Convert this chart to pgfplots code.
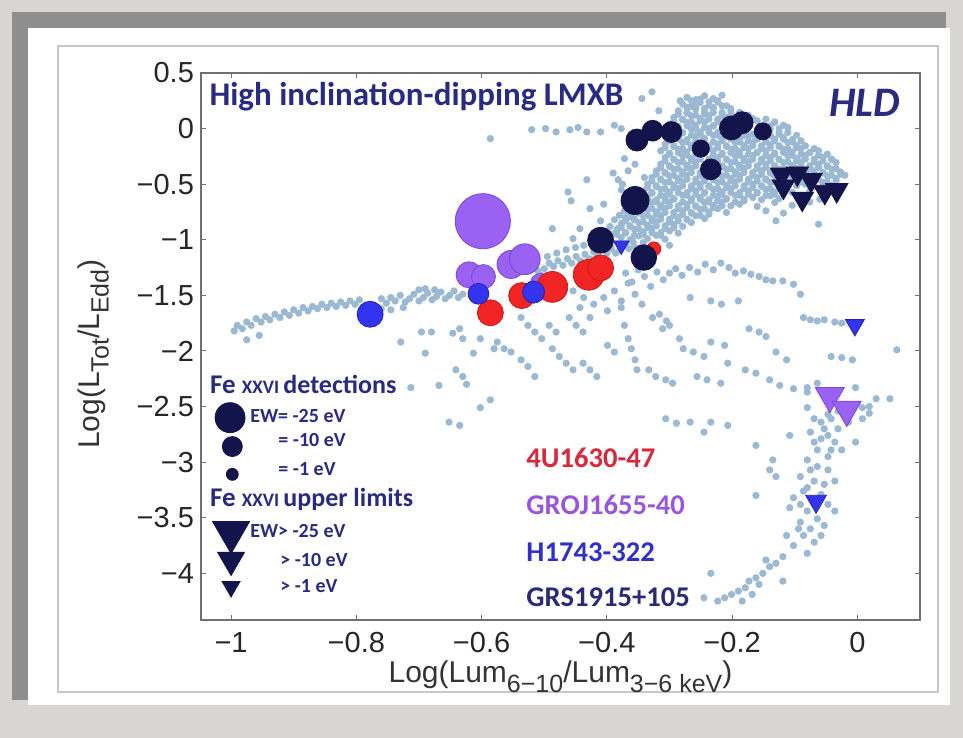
\documentclass[border=0pt]{standalone}
\usepackage{pgfplots}
\pgfplotsset{compat=1.18}
\usepackage{pgfplotstable}
\usepackage{fontspec}
\setmainfont{Liberation Sans}
\newfontfamily\calfont{Carlito}
\definecolor{lb}{HTML}{9BB9D2}
\definecolor{navyc}{HTML}{14144C}
\definecolor{purc}{HTML}{9A62F2}
\definecolor{pure}{HTML}{7A45D0}
\definecolor{redc}{HTML}{F22424}
\definecolor{rede}{HTML}{C41C1C}
\definecolor{bluc}{HTML}{3434EE}
\definecolor{blue2}{HTML}{2222B0}
\definecolor{txtnavy}{HTML}{2A2A80}
\definecolor{axgray}{HTML}{707070}
\definecolor{bgouter}{HTML}{D8D6D3}
\definecolor{bgshadow}{HTML}{8E8E8E}
\definecolor{innerline}{HTML}{C8C8C8}
\definecolor{tred}{HTML}{D8283C}
\definecolor{tpur}{HTML}{9955DD}
\definecolor{tblu}{HTML}{3030C8}
\definecolor{tnav}{HTML}{2A2A78}
\newcommand{\sbs}[1]{\raisebox{-0.32em}{\fontsize{12.5}{13}\selectfont #1}}

\pgfplotstableread{
x y
-0.995 -1.82
-0.990 -1.77
-0.982 -1.80
-0.975 -1.90
-0.975 -1.74
-0.968 -1.77
-0.960 -1.71
-0.955 -1.86
-0.952 -1.74
-0.945 -1.69
-0.938 -1.72
-0.930 -1.67
-0.922 -1.70
-0.915 -1.65
-0.907 -1.68
-0.900 -1.63
-0.892 -1.66
-0.885 -1.61
-0.877 -1.64
-0.870 -1.60
-0.862 -1.62
-0.855 -1.58
-0.847 -1.61
-0.840 -1.57
-0.832 -1.60
-0.825 -1.56
-0.817 -1.59
-0.810 -1.55
-0.802 -1.58
-0.795 -1.54
-0.760 -1.53
-0.752 -1.57
-0.745 -1.52
-0.738 -1.55
-0.730 -1.50
-0.722 -1.56
-0.715 -1.53
-0.708 -1.49
-0.700 -1.55
-0.693 -1.52
-0.686 -1.48
-0.679 -1.54
-0.672 -1.51
-0.665 -1.47
-0.658 -1.53
-0.651 -1.50
-0.644 -1.46
-0.637 -1.52
-0.630 -1.49
-0.700 -1.45
-0.690 -1.44
-0.675 -1.45
-0.760 -1.62
-0.745 -1.63
-0.725 -1.61
-0.729 -1.92
-0.696 -1.83
-0.690 -2.02
-0.680 -1.83
-0.646 -1.84
-0.635 -1.80
-0.630 -1.89
-0.641 -2.17
-0.630 -2.23
-0.624 -2.30
-0.713 -2.33
-0.668 -2.31
-0.652 -2.64
-0.635 -2.67
-0.602 -2.51
-0.586 -2.44
-0.602 -1.89
-0.580 -1.98
-0.613 -2.02
-0.500 -1.26
-0.492 -1.21
-0.485 -1.24
-0.478 -1.19
-0.470 -1.23
-0.463 -1.17
-0.456 -1.21
-0.449 -1.15
-0.442 -1.19
-0.435 -1.13
-0.428 -1.17
-0.421 -1.11
-0.414 -1.15
-0.400 -1.12
-0.393 -1.08
-0.386 -1.12
-0.379 -1.09
-0.372 -1.04
-0.365 -1.08
-0.358 -1.02
-0.480 -1.12
-0.465 -1.09
-0.450 -1.07
-0.437 -1.05
-0.495 -1.15
-0.510 -1.28
-0.505 -1.32
-0.390 -0.95
-0.383 -0.90
-0.376 -0.85
-0.395 -0.88
-0.388 -0.82
-0.380 -0.78
-0.372 -0.74
-0.366 -0.80
-0.360 -0.76
-0.462 -0.57
-0.457 -0.65
-0.432 -0.46
-0.427 -0.72
-0.405 -0.68
-0.382 -0.46
-0.377 -0.55
-0.410 -0.83
-0.443 -0.90
-0.487 -0.90
-0.454 -0.99
-0.390 -0.40
-0.375 -0.50
-0.372 -0.27
-0.355 -0.32
-0.366 -0.38
-0.340 -0.44
-0.344 0.27
-0.328 0.33
-0.586 -0.09
-0.520 -0.01
-0.498 0.00
-0.481 -0.03
-0.459 -0.01
-0.446 0.01
-0.432 -0.03
-0.410 -0.03
-0.388 0.03
-0.377 0.00
-0.317 0.16
-0.283 0.25
-0.370 -1.30
-0.360 -1.38
-0.350 -1.27
-0.340 -1.33
-0.330 -1.42
-0.320 -1.29
-0.310 -1.36
-0.300 -1.30
-0.290 -1.26
-0.280 -1.32
-0.268 -1.25
-0.255 -1.29
-0.243 -1.22
-0.230 -1.27
-0.218 -1.21
-0.205 -1.25
-0.195 -1.30
-0.182 -1.28
-0.170 -1.31
-0.157 -1.33
-0.146 -1.36
-0.135 -1.37
-0.119 -1.37
-0.102 -1.40
-0.091 -1.49
-0.267 -1.52
-0.234 -1.55
-0.217 -1.58
-0.190 -1.55
-0.454 -1.46
-0.437 -1.52
-0.421 -1.58
-0.405 -1.52
-0.388 -1.46
-0.377 -1.55
-0.366 -1.39
-0.355 -1.49
-0.344 -1.58
-0.443 -1.61
-0.399 -1.64
-0.377 -1.61
-0.537 -1.70
-0.526 -1.77
-0.515 -1.83
-0.504 -1.89
-0.492 -1.77
-0.481 -1.83
-0.575 -1.92
-0.564 -1.98
-0.553 -2.01
-0.460 -1.70
-0.449 -1.77
-0.438 -1.83
-0.427 -1.70
-0.372 -1.77
-0.366 -1.89
-0.361 -1.98
-0.355 -2.08
-0.352 -2.17
-0.327 -1.70
-0.316 -1.67
-0.305 -1.73
-0.311 -1.80
-0.300 -1.77
-0.487 -1.98
-0.476 -2.05
-0.465 -2.11
-0.454 -2.17
-0.537 -2.08
-0.526 -2.14
-0.515 -2.23
-0.438 -2.11
-0.427 -2.17
-0.416 -2.23
-0.399 -1.95
-0.388 -2.01
-0.333 -2.17
-0.322 -2.23
-0.306 -2.26
-0.295 -2.29
-0.278 -1.98
-0.262 -2.01
-0.245 -2.05
-0.256 -2.23
-0.240 -2.26
-0.218 -2.29
-0.207 -2.11
-0.179 -2.17
-0.162 -2.20
-0.140 -2.26
-0.124 -2.31
-0.102 -2.34
-0.080 -2.37
-0.173 -1.80
-0.157 -1.83
-0.146 -1.87
-0.086 -1.70
-0.075 -1.72
-0.064 -1.73
-0.053 -1.72
-0.036 -1.74
-0.025 -1.75
-0.042 -2.05
-0.025 -2.06
-0.008 -2.08
0.063 -1.99
-0.306 -2.61
-0.289 -2.65
-0.267 -2.64
-0.245 -2.73
-0.162 -2.85
-0.234 -2.64
-0.207 -2.67
-0.284 -1.89
-0.234 -1.92
-0.212 -1.95
-0.130 -2.01
-0.113 -2.08
-0.080 -2.51
-0.069 -2.61
-0.058 -2.64
-0.075 -2.73
-0.058 -2.79
-0.047 -2.76
-0.036 -2.82
-0.064 -2.89
-0.047 -2.95
-0.025 -2.89
-0.003 -2.82
-0.014 -2.64
0.008 -2.61
0.019 -2.56
-0.080 -2.98
-0.064 -3.04
-0.047 -3.07
-0.091 -3.13
-0.069 -3.17
-0.053 -3.20
-0.086 -3.26
-0.058 -3.29
-0.047 -3.38
-0.080 -3.44
-0.064 -3.51
-0.091 -3.54
-0.075 -3.60
-0.053 -3.57
-0.102 -3.32
-0.108 -3.41
-0.086 -3.66
-0.069 -3.72
-0.102 -3.75
-0.113 -3.66
0.030 -2.43
0.052 -2.43
0.019 -2.50
-0.135 -2.98
-0.140 -3.07
-0.130 -3.13
-0.162 -3.30
-0.119 -3.85
-0.130 -3.91
-0.140 -3.94
-0.151 -4.00
-0.162 -4.04
-0.173 -4.07
-0.179 -4.13
-0.190 -4.16
-0.201 -4.19
-0.212 -4.22
-0.223 -4.25
-0.146 -3.88
-0.157 -4.10
-0.168 -4.19
-0.184 -4.25
-0.234 -4.00
-0.245 -4.22
-0.119 -4.07
-0.042 -2.61
-0.031 -2.70
-0.053 -2.70
-0.069 -2.82
-0.042 -2.89
-0.075 -3.07
-0.036 -3.17
-0.080 -3.23
-0.069 -3.35
-0.091 -3.38
-0.036 -3.44
-0.058 -3.66
-0.094 -3.60
-0.080 -3.82
-0.080 -2.33
-0.064 -2.29
-0.003 -2.33
0.008 -2.51
-0.031 -2.54
-0.047 -2.57
-0.108 -2.76
-0.272 0.28
-0.258 0.26
-0.244 0.295
-0.230 0.27
-0.216 0.30
-0.279 0.22
-0.265 0.20
-0.251 0.235
-0.237 0.21
-0.223 0.24
-0.209 0.205
-0.286 0.16
-0.272 0.14
-0.258 0.175
-0.244 0.15
-0.230 0.18
-0.216 0.145
-0.202 0.16
-0.188 0.14
-0.293 0.10
-0.279 0.08
-0.265 0.115
-0.251 0.09
-0.237 0.12
-0.223 0.085
-0.209 0.10
-0.195 0.08
-0.181 0.115
-0.167 0.09
-0.300 0.04
-0.286 0.02
-0.272 0.055
-0.258 0.03
-0.244 0.06
-0.230 0.025
-0.216 0.04
-0.146 0.02
-0.132 0.055
-0.118 0.03
-0.293 -0.02
-0.279 -0.04
-0.265 -0.005
-0.251 -0.03
-0.237 0.00
-0.223 -0.035
-0.209 -0.02
-0.195 -0.04
-0.139 -0.005
-0.125 -0.03
-0.286 -0.08
-0.272 -0.10
-0.258 -0.065
-0.244 -0.09
-0.230 -0.06
-0.216 -0.095
-0.202 -0.08
-0.188 -0.10
-0.174 -0.065
-0.160 -0.09
-0.146 -0.06
-0.132 -0.095
-0.118 -0.08
-0.104 -0.10
-0.307 -0.14
-0.293 -0.16
-0.279 -0.125
-0.265 -0.15
-0.251 -0.12
-0.237 -0.155
-0.223 -0.14
-0.209 -0.16
-0.195 -0.125
-0.181 -0.15
-0.167 -0.12
-0.153 -0.155
-0.139 -0.14
-0.125 -0.16
-0.111 -0.125
-0.097 -0.15
-0.314 -0.20
-0.300 -0.22
-0.286 -0.185
-0.272 -0.21
-0.258 -0.18
-0.244 -0.215
-0.230 -0.20
-0.216 -0.22
-0.202 -0.185
-0.188 -0.21
-0.174 -0.18
-0.160 -0.215
-0.146 -0.20
-0.132 -0.22
-0.118 -0.185
-0.104 -0.21
-0.090 -0.18
-0.076 -0.215
-0.062 -0.20
-0.307 -0.26
-0.293 -0.28
-0.279 -0.245
-0.265 -0.27
-0.251 -0.24
-0.237 -0.275
-0.223 -0.26
-0.209 -0.28
-0.195 -0.245
-0.181 -0.27
-0.167 -0.24
-0.153 -0.275
-0.139 -0.26
-0.125 -0.28
-0.111 -0.245
-0.097 -0.27
-0.083 -0.24
-0.069 -0.275
-0.055 -0.26
-0.041 -0.28
-0.314 -0.32
-0.300 -0.34
-0.286 -0.305
-0.272 -0.33
-0.258 -0.30
-0.244 -0.335
-0.230 -0.32
-0.216 -0.34
-0.202 -0.305
-0.188 -0.33
-0.174 -0.30
-0.160 -0.335
-0.146 -0.32
-0.132 -0.34
-0.118 -0.305
-0.104 -0.33
-0.090 -0.30
-0.076 -0.335
-0.062 -0.32
-0.048 -0.34
-0.034 -0.305
-0.321 -0.38
-0.307 -0.40
-0.293 -0.365
-0.279 -0.39
-0.265 -0.36
-0.251 -0.395
-0.237 -0.38
-0.223 -0.40
-0.209 -0.365
-0.195 -0.39
-0.181 -0.36
-0.167 -0.395
-0.153 -0.38
-0.139 -0.40
-0.125 -0.365
-0.111 -0.39
-0.097 -0.36
-0.083 -0.395
-0.069 -0.38
-0.055 -0.40
-0.041 -0.365
-0.027 -0.39
-0.328 -0.44
-0.314 -0.46
-0.300 -0.425
-0.286 -0.45
-0.272 -0.42
-0.258 -0.455
-0.244 -0.44
-0.230 -0.46
-0.216 -0.425
-0.202 -0.45
-0.188 -0.42
-0.174 -0.455
-0.160 -0.44
-0.146 -0.46
-0.132 -0.425
-0.118 -0.45
-0.104 -0.42
-0.090 -0.455
-0.076 -0.44
-0.062 -0.46
-0.048 -0.425
-0.034 -0.45
-0.020 -0.42
-0.335 -0.50
-0.321 -0.52
-0.307 -0.485
-0.293 -0.51
-0.279 -0.48
-0.265 -0.515
-0.251 -0.50
-0.237 -0.52
-0.223 -0.485
-0.209 -0.51
-0.195 -0.48
-0.181 -0.515
-0.167 -0.50
-0.153 -0.52
-0.139 -0.485
-0.125 -0.51
-0.111 -0.48
-0.097 -0.515
-0.083 -0.50
-0.069 -0.52
-0.055 -0.485
-0.041 -0.51
-0.342 -0.56
-0.328 -0.58
-0.314 -0.545
-0.300 -0.57
-0.286 -0.54
-0.272 -0.575
-0.258 -0.56
-0.244 -0.58
-0.230 -0.545
-0.216 -0.57
-0.202 -0.54
-0.188 -0.575
-0.174 -0.56
-0.160 -0.58
-0.146 -0.545
-0.132 -0.57
-0.118 -0.54
-0.104 -0.575
-0.076 -0.56
-0.048 -0.58
-0.335 -0.62
-0.321 -0.64
-0.307 -0.605
-0.293 -0.63
-0.279 -0.60
-0.265 -0.635
-0.251 -0.62
-0.237 -0.64
-0.223 -0.605
-0.209 -0.63
-0.195 -0.60
-0.181 -0.635
-0.167 -0.62
-0.153 -0.64
-0.139 -0.605
-0.125 -0.63
-0.090 -0.60
-0.060 -0.635
-0.356 -0.68
-0.342 -0.70
-0.328 -0.665
-0.314 -0.69
-0.300 -0.66
-0.286 -0.695
-0.272 -0.68
-0.258 -0.70
-0.244 -0.665
-0.230 -0.69
-0.216 -0.66
-0.202 -0.695
-0.188 -0.68
-0.160 -0.70
-0.132 -0.665
-0.104 -0.69
-0.076 -0.66
-0.363 -0.74
-0.349 -0.76
-0.335 -0.725
-0.321 -0.75
-0.307 -0.72
-0.293 -0.755
-0.279 -0.74
-0.265 -0.76
-0.251 -0.725
-0.237 -0.75
-0.223 -0.72
-0.209 -0.755
-0.146 -0.74
-0.118 -0.76
-0.370 -0.80
-0.356 -0.82
-0.342 -0.785
-0.328 -0.81
-0.314 -0.78
-0.300 -0.815
-0.286 -0.80
-0.272 -0.82
-0.258 -0.785
-0.244 -0.81
-0.130 -0.83
-0.062 -0.86
-0.377 -0.86
-0.363 -0.88
-0.349 -0.845
-0.335 -0.87
-0.321 -0.84
-0.307 -0.875
-0.293 -0.86
-0.279 -0.88
-0.265 -0.845
-0.384 -0.92
-0.370 -0.94
-0.356 -0.905
-0.342 -0.93
-0.328 -0.90
-0.314 -0.935
-0.300 -0.92
-0.286 -0.94
-0.377 -0.98
-0.363 -1.00
-0.349 -0.965
-0.335 -0.99
-0.321 -0.96
-0.307 -0.995
-0.370 -1.04
-0.356 -1.06
-0.342 -1.025
-0.300 -1.05
-0.265 0.25
-0.251 0.265
-0.237 0.24
-0.223 0.25
-0.272 0.19
-0.258 0.205
-0.244 0.18
-0.230 0.19
-0.216 0.205
-0.202 0.18
-0.286 0.13
-0.272 0.145
-0.258 0.12
-0.244 0.13
-0.230 0.145
-0.216 0.12
-0.202 0.13
-0.188 0.145
-0.174 0.12
-0.293 0.07
-0.279 0.085
-0.265 0.06
-0.251 0.07
-0.237 0.085
-0.223 0.06
-0.160 0.07
-0.146 0.085
-0.132 0.06
-0.286 0.01
-0.272 0.025
-0.258 0.00
-0.244 0.01
-0.230 0.025
-0.216 0.00
-0.202 0.01
-0.139 0.025
-0.125 0.00
-0.111 0.01
-0.293 -0.05
-0.279 -0.035
-0.265 -0.06
-0.251 -0.05
-0.237 -0.035
-0.223 -0.06
-0.209 -0.05
-0.195 -0.035
-0.181 -0.06
-0.167 -0.05
-0.153 -0.035
-0.139 -0.06
-0.125 -0.05
-0.111 -0.035
-0.097 -0.06
-0.300 -0.11
-0.286 -0.095
-0.272 -0.12
-0.258 -0.11
-0.244 -0.095
-0.230 -0.12
-0.216 -0.11
-0.202 -0.095
-0.188 -0.12
-0.174 -0.11
-0.160 -0.095
-0.146 -0.12
-0.132 -0.11
-0.118 -0.095
-0.104 -0.12
-0.090 -0.11
-0.307 -0.17
-0.293 -0.155
-0.279 -0.18
-0.265 -0.17
-0.251 -0.155
-0.237 -0.18
-0.223 -0.17
-0.209 -0.155
-0.195 -0.18
-0.181 -0.17
-0.167 -0.155
-0.153 -0.18
-0.139 -0.17
-0.125 -0.155
-0.111 -0.18
-0.097 -0.17
-0.083 -0.155
-0.069 -0.18
-0.300 -0.23
-0.286 -0.215
-0.272 -0.24
-0.258 -0.23
-0.244 -0.215
-0.230 -0.24
-0.216 -0.23
-0.202 -0.215
-0.188 -0.24
-0.174 -0.23
-0.160 -0.215
-0.146 -0.24
-0.132 -0.23
-0.118 -0.215
-0.104 -0.24
-0.090 -0.23
-0.076 -0.215
-0.062 -0.24
-0.048 -0.23
-0.307 -0.29
-0.293 -0.275
-0.279 -0.30
-0.265 -0.29
-0.251 -0.275
-0.237 -0.30
-0.223 -0.29
-0.209 -0.275
-0.195 -0.30
-0.181 -0.29
-0.167 -0.275
-0.153 -0.30
-0.139 -0.29
-0.125 -0.275
-0.111 -0.30
-0.097 -0.29
-0.083 -0.275
-0.069 -0.30
-0.055 -0.29
-0.041 -0.275
-0.314 -0.35
-0.300 -0.335
-0.286 -0.36
-0.272 -0.35
-0.258 -0.335
-0.244 -0.36
-0.230 -0.35
-0.216 -0.335
-0.202 -0.36
-0.188 -0.35
-0.174 -0.335
-0.160 -0.36
-0.146 -0.35
-0.132 -0.335
-0.118 -0.36
-0.104 -0.35
-0.090 -0.335
-0.076 -0.36
-0.062 -0.35
-0.048 -0.335
-0.034 -0.36
-0.321 -0.41
-0.307 -0.395
-0.293 -0.42
-0.279 -0.41
-0.265 -0.395
-0.251 -0.42
-0.237 -0.41
-0.223 -0.395
-0.209 -0.42
-0.195 -0.41
-0.181 -0.395
-0.167 -0.42
-0.153 -0.41
-0.139 -0.395
-0.125 -0.42
-0.111 -0.41
-0.097 -0.395
-0.083 -0.42
-0.069 -0.41
-0.055 -0.395
-0.041 -0.42
-0.027 -0.41
-0.328 -0.47
-0.314 -0.455
-0.300 -0.48
-0.286 -0.47
-0.272 -0.455
-0.258 -0.48
-0.244 -0.47
-0.230 -0.455
-0.216 -0.48
-0.202 -0.47
-0.188 -0.455
-0.174 -0.48
-0.160 -0.47
-0.146 -0.455
-0.132 -0.48
-0.118 -0.47
-0.104 -0.455
-0.090 -0.48
-0.076 -0.47
-0.062 -0.455
-0.048 -0.48
-0.034 -0.47
-0.335 -0.53
-0.321 -0.515
-0.307 -0.54
-0.293 -0.53
-0.279 -0.515
-0.265 -0.54
-0.251 -0.53
-0.237 -0.515
-0.223 -0.54
-0.209 -0.53
-0.195 -0.515
-0.181 -0.54
-0.167 -0.53
-0.153 -0.515
-0.139 -0.54
-0.125 -0.53
-0.111 -0.515
-0.342 -0.59
-0.328 -0.575
-0.314 -0.60
-0.300 -0.59
-0.286 -0.575
-0.272 -0.60
-0.258 -0.59
-0.244 -0.575
-0.230 -0.60
-0.216 -0.59
-0.202 -0.575
-0.188 -0.60
-0.174 -0.59
-0.160 -0.575
-0.146 -0.60
-0.132 -0.59
-0.118 -0.575
-0.349 -0.65
-0.335 -0.635
-0.321 -0.66
-0.307 -0.65
-0.293 -0.635
-0.279 -0.66
-0.265 -0.65
-0.251 -0.635
-0.237 -0.66
-0.223 -0.65
-0.209 -0.635
-0.195 -0.66
-0.181 -0.65
-0.356 -0.71
-0.342 -0.695
-0.328 -0.72
-0.314 -0.71
-0.300 -0.695
-0.286 -0.72
-0.272 -0.71
-0.258 -0.695
-0.244 -0.72
-0.230 -0.71
-0.216 -0.695
-0.363 -0.77
-0.349 -0.755
-0.335 -0.78
-0.321 -0.77
-0.307 -0.755
-0.293 -0.78
-0.279 -0.77
-0.265 -0.755
-0.251 -0.78
-0.237 -0.77
-0.370 -0.83
-0.356 -0.815
-0.342 -0.84
-0.328 -0.83
-0.314 -0.815
-0.300 -0.84
-0.286 -0.83
-0.272 -0.815
-0.377 -0.89
-0.363 -0.875
-0.349 -0.90
-0.335 -0.89
-0.321 -0.875
-0.307 -0.90
-0.293 -0.89
-0.384 -0.95
-0.370 -0.935
-0.356 -0.96
-0.342 -0.95
-0.328 -0.935
-0.314 -0.96
}\lbdata

\pgfplotstableread{
x y s
-0.352 -0.103 5.5
-0.327 -0.019 5.2
-0.297 -0.031 5.2
-0.250 -0.180 4.3
-0.234 -0.367 5.2
-0.201 0.006 6
-0.184 0.053 5.5
-0.151 -0.025 4.3
-0.355 -0.647 7
-0.410 -1.004 6.5
-0.341 -1.160 6.4
}\navycirc

\pgfplotstableread{
x y s
-0.121 -0.414 6.5
-0.096 -0.404 6.5
-0.074 -0.460 6.5
-0.118 -0.522 6.5
-0.088 -0.631 6.5
-0.052 -0.569 6.5
-0.033 -0.553 6.5
}\navytri

\pgfplotstableread{
x y s
-0.598 -0.833 13.8
-0.620 -1.315 6.5
-0.597 -1.331 6
-0.553 -1.222 7
-0.531 -1.175 7.7
-0.506 -1.393 5
}\purcirc

\pgfplotstableread{
x y s
-0.044 -2.404 8.4
-0.017 -2.528 8.4
}\purtri

\pgfplotstableread{
x y s
-0.325 -1.082 3.5
-0.586 -1.657 6.5
-0.536 -1.502 6.5
-0.487 -1.424 7.7
-0.429 -1.315 7.7
-0.410 -1.253 6.5
}\redcirc

\pgfplotstableread{
x y s
-0.605 -1.486 5.2
-0.517 -1.471 5.5
-0.778 -1.670 6.5
}\blucirc

\pgfplotstableread{
x y s
-0.377 -1.051 4.5
-0.004 -1.766 5.5
-0.066 -3.352 6
}\blutri

\pgfplotstableread{
x y s
-1.0016 -2.60 7.5
-0.998 -2.86 5
-0.998 -3.11 3
}\legcirc

\pgfplotstableread{
x y s
-1.0 -3.63 10.7
-1.0 -3.88 7.8
-1.0 -4.12 5.2
}\legtri

\pgfplotsset{vsize/.style={visualization depends on={\thisrow{s}\as\ms},
  scatter/@pre marker code/.append style={/tikz/mark size=\ms}}}

\begin{document}
\begin{tikzpicture}[x=1pt,y=1pt]
% slide frame
\fill[bgouter] (0,0) rectangle (481.5,369);
\fill[bgshadow] (6,19) rectangle (473,363);
\fill[white] (14,16.5) rectangle (475,355);
\draw[innerline, line width=0.8pt] (29,23) rectangle (469,346);
\begin{axis}[
  at={(100.5pt,59pt)}, anchor=south west,
  width=359.5pt, height=273.5pt, scale only axis,
  xmin=-1.048, xmax=0.1, ymin=-4.42, ymax=0.5,
  axis line style={axgray, line width=0.6pt},
  tick style={axgray, line width=0.5pt},
  major tick length=2.5pt,
  xtick={-1,-0.8,-0.6,-0.4,-0.2,0},
  xticklabels={−1,−0.8,−0.6,−0.4,−0.2,0},
  ytick={-4,-3.5,-3,-2.5,-2,-1.5,-1,-0.5,0,0.5},
  yticklabels={−4,−3.5,−3,−2.5,−2,−1.5,−1,−0.5,0,0.5},
  tick label style={font=\fontsize{14.5}{16}\selectfont, text=black!85},
  xticklabel style={yshift=-2.5pt},
  xlabel={Log(Lum\sbs{6−10}/Lum\sbs{3−6 keV})},
  ylabel={Log(L\sbs{Tot}/L\sbs{Edd})},
  every axis x label/.style={at={(rel axis cs:0.5,-0.115)}, anchor=base, font=\fontsize{15}{17}\selectfont, text=black!80},
  every axis y label/.style={at={(rel axis cs:-0.150,0.486)}, anchor=center, rotate=90, font=\fontsize{15}{17}\selectfont, text=black!80},
  clip=true,
]
\addplot[only marks, mark=*, mark size=1.6pt, draw=lb, fill=lb] table[x=x,y=y] {\lbdata};
\addplot[scatter, only marks, mark=*, scatter/use mapped color={draw=pure, fill=purc}, vsize] table[x=x,y=y] {\purcirc};
\addplot[scatter, only marks, mark=*, scatter/use mapped color={draw=rede, fill=redc}, vsize] table[x=x,y=y] {\redcirc};
\addplot[scatter, only marks, mark=*, scatter/use mapped color={draw=blue2, fill=bluc}, vsize] table[x=x,y=y] {\blucirc};
\addplot[scatter, only marks, mark=*, scatter/use mapped color={draw=navyc, fill=navyc}, vsize] table[x=x,y=y] {\navycirc};
\addplot[scatter, only marks, mark=triangle*, mark options={rotate=180}, scatter/use mapped color={draw=navyc, fill=navyc}, vsize] table[x=x,y=y] {\navytri};
\addplot[scatter, only marks, mark=triangle*, mark options={rotate=180}, scatter/use mapped color={draw=pure, fill=purc}, vsize] table[x=x,y=y] {\purtri};
\addplot[scatter, only marks, mark=triangle*, mark options={rotate=180}, scatter/use mapped color={draw=blue2, fill=bluc}, vsize] table[x=x,y=y] {\blutri};
% legend glyphs
\addplot[scatter, only marks, mark=*, scatter/use mapped color={draw=navyc, fill=navyc}, vsize] table[x=x,y=y] {\legcirc};
\addplot[scatter, only marks, mark=triangle*, mark options={rotate=180}, scatter/use mapped color={draw=navyc, fill=navyc}, vsize] table[x=x,y=y] {\legtri};
% texts
\begin{scope}[every node/.style={inner sep=0pt}]
\node[anchor=base west, text=txtnavy, font=\calfont\bfseries\fontsize{16.5}{18}\selectfont] at (axis cs:-1.035,0.212) {High inclination-dipping LMXB};
\node[anchor=base east, text=txtnavy, font=\calfont\bfseries\itshape\fontsize{21}{23}\selectfont] at (axis cs:0.069,0.105) {HLD};
\node[anchor=base west, text=txtnavy, font=\calfont\bfseries] at (axis cs:-1.034,-2.384) {{\fontsize{13.5}{15}\selectfont Fe }{\fontsize{9.5}{11}\selectfont XXVI }{\fontsize{13}{15}\selectfont detections}};
\node[anchor=base west, text=txtnavy, font=\calfont\bfseries\fontsize{10}{12}\selectfont] at (axis cs:-0.970,-2.645) {EW= -25 eV};
\node[anchor=base west, text=txtnavy, font=\calfont\bfseries\fontsize{10}{12}\selectfont] at (axis cs:-0.925,-2.860) {= -10 eV};
\node[anchor=base west, text=txtnavy, font=\calfont\bfseries\fontsize{10}{12}\selectfont] at (axis cs:-0.925,-3.121) {= -1 eV};
\node[anchor=base west, text=txtnavy, font=\calfont\bfseries] at (axis cs:-1.034,-3.399) {{\fontsize{13.5}{15}\selectfont Fe }{\fontsize{9.5}{11}\selectfont XXVI }{\fontsize{13}{15}\selectfont upper limits}};
\node[anchor=base west, text=txtnavy, font=\calfont\bfseries\fontsize{10}{12}\selectfont] at (axis cs:-0.970,-3.678) {EW> -25 eV};
\node[anchor=base west, text=txtnavy, font=\calfont\bfseries\fontsize{10}{12}\selectfont] at (axis cs:-0.922,-3.938) {> -10 eV};
\node[anchor=base west, text=txtnavy, font=\calfont\bfseries\fontsize{10}{12}\selectfont] at (axis cs:-0.922,-4.172) {> -1 eV};
\node[anchor=base west, text=tred, font=\calfont\bfseries\fontsize{14.3}{16}\selectfont] at (axis cs:-0.529,-3.049) {4U1630-47};
\node[anchor=base west, text=tpur, font=\calfont\bfseries\fontsize{14.3}{16}\selectfont] at (axis cs:-0.529,-3.471) {GROJ1655-40};
\node[anchor=base west, text=tblu, font=\calfont\bfseries\fontsize{14.3}{16}\selectfont] at (axis cs:-0.529,-3.894) {H1743-322};
\node[anchor=base west, text=tnav, font=\calfont\bfseries\fontsize{14.3}{16}\selectfont] at (axis cs:-0.529,-4.298) {GRS1915+105};
\end{scope}
\end{axis}
\end{tikzpicture}
\end{document}
